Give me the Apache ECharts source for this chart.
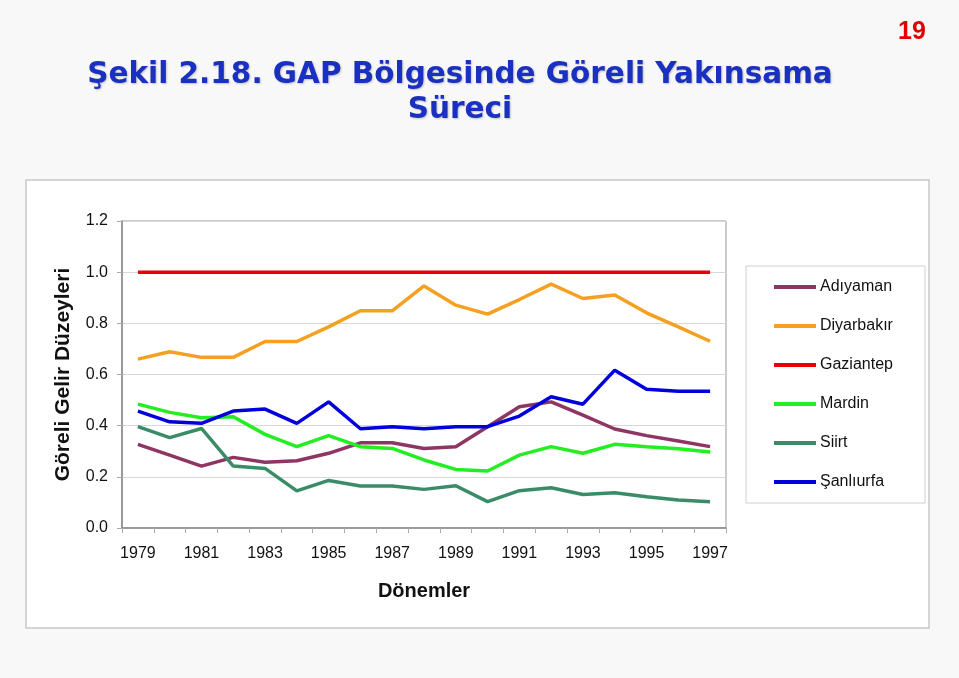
<!DOCTYPE html>
<html>
<head>
<meta charset="utf-8">
<script src="https://cdn.jsdelivr.net/npm/echarts@6/dist/echarts.min.js"></script>
<style>
html,body{margin:0;padding:0;background:#f8f8f8;}
#chart{width:959px;height:678px;}
</style>
</head>
<body>
<div id="chart"></div>
<script>
const years = ['1979','1980','1981','1982','1983','1984','1985','1986','1987','1988','1989','1990','1991','1992','1993','1994','1995','1996','1997'];
const yTicks = [0, 0.2, 0.4, 0.6, 0.8, 1.0, 1.2];
const adiyaman   = [0.327,0.285,0.242,0.276,0.257,0.263,0.292,0.333,0.333,0.311,0.318,0.396,0.474,0.493,0.441,0.387,0.361,0.340,0.318];
const diyarbakir = [0.660,0.689,0.667,0.667,0.729,0.729,0.786,0.849,0.849,0.946,0.871,0.836,0.893,0.953,0.897,0.911,0.841,0.786,0.730];
const gaziantep  = [1,1,1,1,1,1,1,1,1,1,1,1,1,1,1,1,1,1,1];
const mardin     = [0.484,0.452,0.431,0.435,0.366,0.318,0.361,0.318,0.311,0.266,0.229,0.223,0.285,0.318,0.292,0.327,0.318,0.310,0.297];
const siirt      = [0.396,0.353,0.389,0.242,0.233,0.145,0.186,0.164,0.164,0.151,0.165,0.103,0.146,0.157,0.131,0.138,0.122,0.109,0.103];
const sanliurfa  = [0.457,0.415,0.409,0.457,0.465,0.409,0.493,0.388,0.396,0.388,0.396,0.396,0.4375,0.513,0.484,0.617,0.542,0.535,0.535];
const seriesNames = ['Adıyaman','Diyarbakır','Gaziantep','Mardin','Siirt','Şanlıurfa'];
const seriesColors = ['#8e3563','#f5a020','#e8000b','#22ee22','#3a8c68','#0000dd'];
const seriesData = [adiyaman, diyarbakir, gaziantep, mardin, siirt, sanliurfa];

const chart = echarts.init(document.getElementById('chart'));
const font = 'Liberation Sans, Arial, sans-serif';
chart.setOption({
  backgroundColor: '#f8f8f8',
  animation: false,
  title: {
    text: 'Şekil 2.18. GAP Bölgesinde Göreli Yakınsama\nSüreci',
    left: 455, top: 53, textAlign: 'center',
    textStyle: {
      fontFamily: 'DejaVu Sans, Verdana, sans-serif', fontWeight: 'bold', fontSize: 29.5, lineHeight: 35,
      color: '#1a30c0', textShadowColor: 'rgba(0,0,0,0.22)', textShadowBlur: 2,
      textShadowOffsetX: 1, textShadowOffsetY: 1
    }
  },
  graphic: [
    { type: 'rect', z: -10, shape: {x: 26, y: 180, width: 903, height: 448},
      style: {fill: '#ffffff', stroke: '#c8c8c8', lineWidth: 1.5}, silent: true },
    { type: 'rect', z: -5, shape: {x: 746, y: 266, width: 179, height: 237},
      style: {fill: '#ffffff', stroke: '#d0d0d0', lineWidth: 1}, silent: true },
    { type: 'text', x: 912, y: 32, style: {text: '19', fill: '#e00000', font: 'bold 25px Liberation Sans, Arial', textAlign: 'center', textVerticalAlign: 'middle'} }
  ],
  legend: {
    orient: 'vertical', left: 769, top: 273,
    icon: 'rect', itemWidth: 42, itemHeight: 4, itemGap: 21,
    textStyle: {fontFamily: font, fontSize: 16, color: '#111', lineHeight: 18, padding: [0,0,0,-1]},
    data: seriesNames
  },
  grid: {left: 122, right: 233, top: 221, bottom: 150, show: true, borderColor: '#999', borderWidth: 1},
  xAxis: {
    type: 'category', data: years, boundaryGap: true,
    name: 'Dönemler', nameLocation: 'middle', nameGap: 53,
    nameTextStyle: {fontFamily: font, fontWeight: 'bold', fontSize: 20, color: '#111'},
    axisLine: {lineStyle: {color: '#888', width: 1.5}},
    axisTick: {show: true, interval: 0, length: 5, lineStyle: {color: '#aaa'}},
    axisLabel: {interval: 1, margin: 18, fontFamily: font, fontSize: 16, color: '#111'}
  },
  yAxis: {
    type: 'value', min: 0, max: 1.2, interval: 0.2,
    name: 'Göreli Gelir Düzeyleri', nameLocation: 'middle', nameGap: 48, nameRotate: 90,
    nameTextStyle: {fontFamily: font, fontWeight: 'bold', fontSize: 21, color: '#111'},
    axisLine: {show: true, lineStyle: {color: '#888', width: 1.5}},
    axisTick: {show: true, length: 5, lineStyle: {color: '#aaa'}},
    splitLine: {lineStyle: {color: '#d8d8d8'}},
    axisLabel: {margin: 14, fontFamily: font, fontSize: 16, color: '#111',
      formatter: v => { const t = yTicks.find(x => Math.abs(x - v) < 1e-9); return (t === undefined ? v : t).toFixed(1); }}
  },
  series: seriesNames.map((n, i) => ({
    name: n, type: 'line', data: seriesData[i], symbol: 'none',
    lineStyle: {width: 3.5, color: seriesColors[i]}, itemStyle: {color: seriesColors[i]}
  }))
});
</script>
</body>
</html>
